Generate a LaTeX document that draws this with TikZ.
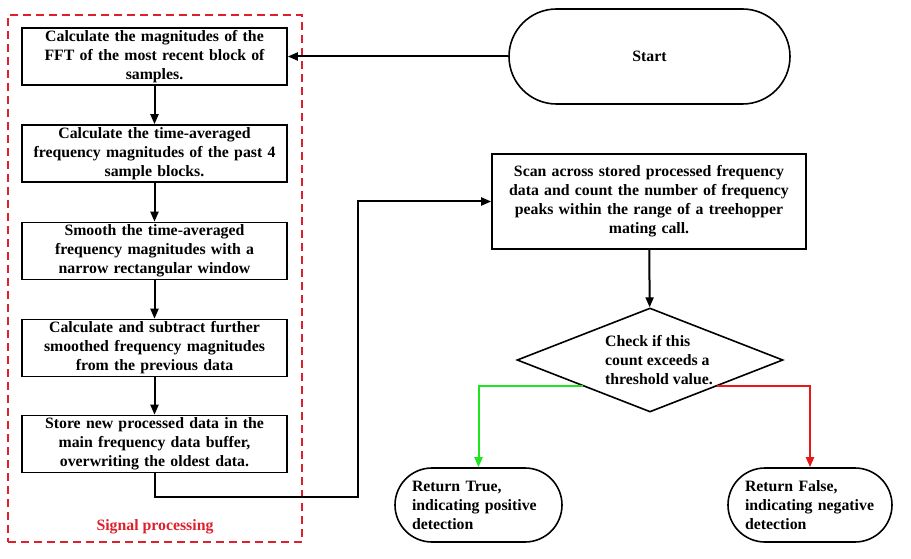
\documentclass[tikz,border=0pt]{standalone}
\usepackage{fontspec}
\setmainfont{Liberation Serif}
\usetikzlibrary{shapes.geometric,arrows.meta,calc,positioning}
\definecolor{grpred}{RGB}{222,32,44}
\definecolor{yesgreen}{RGB}{30,230,30}
\definecolor{nored}{RGB}{232,24,24}

\begin{document}
\begin{tikzpicture}[x=1pt,y=-1pt,
    nodes={font=\fontsize{15.8}{19}\selectfont\bfseries},
    box/.style={draw,line width=1.6pt,rectangle,align=center,inner sep=0pt,
        minimum width=265pt,minimum height=57pt,text width=255pt},
    term/.style={draw,line width=1.6pt,rectangle,rounded corners=37pt,
        minimum height=74pt,inner xsep=17pt,align=left},
    check/.style={draw,line width=1.6pt,diamond,inner sep=0pt,
        minimum width=266pt,minimum height=104pt},
    group/.style={draw=grpred,line width=1.6pt,dash pattern=on 8pt off 5pt,
        rectangle,minimum width=294pt,minimum height=527pt},
    arr/.style={draw,line width=2pt,-{Triangle[length=10pt,width=8pt]}}]
    \useasboundingbox (0,0) rectangle (911,559);

    % signal processing chain
    \node[group] (sigbox) at (155,278.5) {};
    \node[text=grpred,above=5pt of sigbox.south] (sig) {Signal processing};
    \node[box] (f1) at (154.5,56.5) {Calculate the magnitudes of the\\FFT of the most recent block of\\samples.};
    \node[box] (f2) at (154.5,153.5) {Calculate the time-averaged\\frequency magnitudes of the past 4\\sample blocks.};
    \node[box] (f3) at (154.5,251) {Smooth the time-averaged\\frequency magnitudes with a\\narrow rectangular window};
    \node[box] (f4) at (154.5,348) {Calculate and subtract further\\smoothed frequency magnitudes\\from the previous data};
    \node[box] (f5) at (154.5,444) {Store new processed data in the\\main frequency data buffer,\\overwriting the oldest data.};

    % detection
    \node[draw,line width=1.6pt,rectangle,rounded corners=47.5pt,
        minimum width=281pt,minimum height=95pt] (start) at (649.5,56.5) {Start};
    \node[box,minimum width=314pt,minimum height=95pt,text width=305pt] (scan) at (649,201.5)
        {Scan across stored processed frequency\\data and count the number of frequency\\peaks within the range of a treehopper\\mating call.};
    \node[check,label={[align=left,xshift=9pt]center:Check if this\\count exceeds a\\threshold value.}] (chk) at (650,360) {};
    \node[term,text width=133pt] (true) at (478.5,505) {Return True,\\indicating positive\\detection};
    \node[term,text width=130pt] (false) at (810,505) {Return False,\\indicating negative\\detection};

    \coordinate (bend) at (358,497);

    \draw[arr] (start.west) -- (f1.east);
    \draw[arr] (f1) -- (f2);
    \draw[arr] (f2) -- (f3);
    \draw[arr] (f3) -- (f4);
    \draw[arr] (f4) -- (f5);
    \draw[arr] (f5.south) |- (bend) |- (scan.west);
    \draw[arr] (scan) -- (chk);
    \draw[arr,yesgreen] ($(chk.west)!0.5!(chk.south)$) -| (true.north);
    \draw[arr,nored] ($(chk.east)!0.5!(chk.south)$) -| (false.north);
\end{tikzpicture}
\end{document}
